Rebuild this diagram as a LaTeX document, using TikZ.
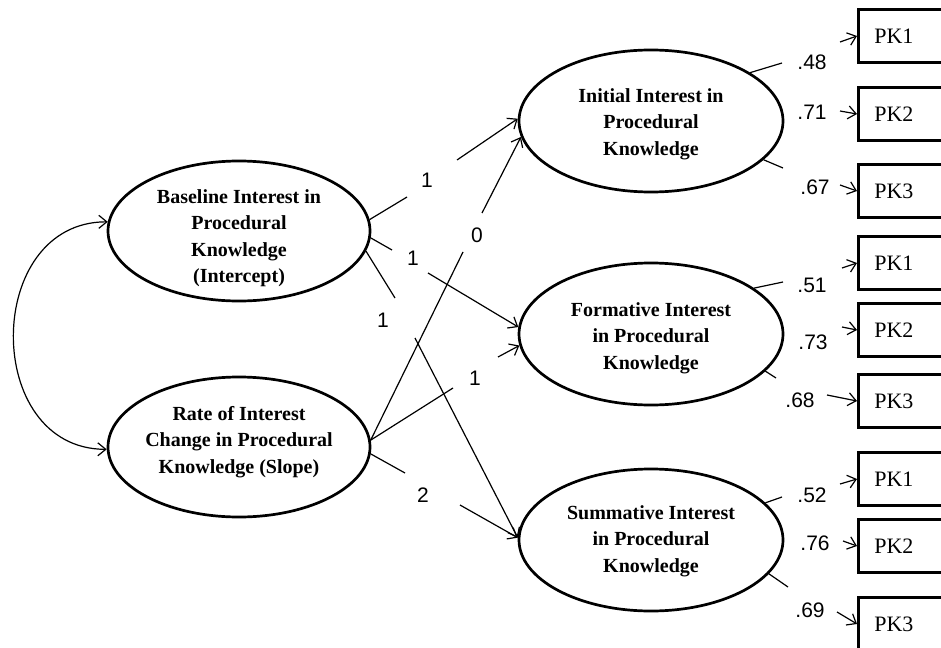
\documentclass[tikz,border=0pt]{standalone}
\usepackage{fontspec}
\setmainfont{Liberation Serif}
\newfontfamily\numfont{Liberation Sans}
\usetikzlibrary{shapes.geometric,arrows.meta,calc}
\begin{document}
\begin{tikzpicture}[x=1pt,y=-1pt,
  lat/.style={ellipse, draw, line width=2.7pt, minimum width=262pt, minimum height=140pt, inner sep=0pt},
  rlat/.style={lat, minimum width=264pt, minimum height=142pt},
  lattext/.style={align=center, inner sep=0pt, font=\bfseries\fontsize{20}{26.5}\selectfont},
  obs/.style={rectangle, draw, line width=2.7pt, minimum height=53pt, text width=88pt,
    inner xsep=16pt, align=left, font=\fontsize{22}{24}\selectfont, anchor=west},
  conn/.style={line width=1.2pt},
  arr/.style={line width=1.2pt, -{Straight Barb[length=8pt,width=13pt]}},
  dbl/.style={line width=1.2pt, {Straight Barb[length=8pt,width=13pt]}-{Straight Barb[length=8pt,width=13pt]}},
  coef/.style={font=\numfont\fontsize{21}{24}\selectfont, inner sep=0pt}
]
\useasboundingbox (0,0) rectangle (941,647);
\clip (0,0) rectangle (941,647);

% latent factors
\node[lat] (base) at (239,231) {};
\node[lattext] (baset) at ([yshift=-7pt]base.center) {Baseline Interest in\\Procedural\\Knowledge\\(Intercept)};
\node[lat] (rate) at (239,447) {};
\node[lattext] (ratet) at ([yshift=5pt]rate.center) {Rate of Interest\\Change in Procedural\\Knowledge (Slope)};
\node[rlat] (ini) at (651,121) {};
\node[lattext] (init) at ([yshift=-3pt]ini.center) {Initial Interest in\\Procedural\\Knowledge};
\node[rlat] (for) at (651,334) {};
\node[lattext] (fort) at ([yshift=-4pt]for.center) {Formative Interest\\in Procedural\\Knowledge};
\node[rlat] (sum) at (651,540) {};
\node[lattext] (sumt) at ([yshift=-1pt]sum.center) {Summative Interest\\in Procedural\\Knowledge};

% indicators
\node[obs] (i1) at (857,36) {PK1};
\node[obs] (i2) at (857,114) {PK2};
\node[obs] (i3) at (857,191) {PK3};
\node[obs] (f1) at (857,263) {PK1};
\node[obs] (f2) at (857,330) {PK2};
\node[obs] (f3) at (857,401) {PK3};
\node[obs] (s1) at (857,479) {PK1};
\node[obs] (s2) at (857,546) {PK2};
\node[obs] (s3) at (857,624) {PK3};

% covariance
\draw[dbl] (base.176) to[out=180,in=180,looseness=1.4] (rate.181);

% growth paths (broken by their labels)
\coordinate (bi1) at (407,197); \coordinate (bi2) at (457,160);
\coordinate (ri1) at (463,252); \coordinate (ri2) at (482,213);
\coordinate (bf1) at (392,250); \coordinate (bf2) at (428,273);
\coordinate (bs1) at (395,298); \coordinate (bs2) at (415,338);
\coordinate (rf1) at (453,388); \coordinate (rf2) at (498,357);
\coordinate (rs1) at (405,473); \coordinate (rs2) at (460,505);

\draw[conn] (base.5) -- (bi1);  \draw[arr] (bi2) -- (ini.179);
\draw[conn] (rate.3) -- (ri1);  \draw[arr] (ri2) -- (ini.187);
\draw[conn] (base.-3) -- (bf1); \draw[arr] (bf2) -- (for.177);
\draw[conn] (base.-9) -- (bs1); \draw[arr] (bs2) -- (sum.179);
\draw[conn] (rate.3) -- (rf1);  \draw[arr] (rf2) -- (for.185);
\draw[conn] (rate.-3) -- (rs1); \draw[arr] (rs2) -- (sum.179);

\node[coef] (l1) at (427,180) {1};
\node[coef] (l2) at (477,235) {0};
\node[coef] (l3) at (413,258) {1};
\node[coef] (l4) at (383,320) {1};
\node[coef] (l5) at (475,378) {1};
\node[coef] (l6) at (423,495) {2};

% loadings
\coordinate (ia) at (782,63);  \coordinate (ib) at (840,42);
\coordinate (ic) at (840,111);
\coordinate (id) at (783,168); \coordinate (ie) at (840,185);
\draw[conn] (ini.26) -- (ia);  \draw[arr] (ib) -- (i1.west);
\draw[arr] (ic) -- (i2.west);
\draw[conn] (ini.-19) -- (id); \draw[arr] (ie) -- (i3.west);

\coordinate (fa) at (783,282); \coordinate (fb) at (842,268);
\coordinate (fc) at (842,327);
\coordinate (fd) at (776,378); \coordinate (fe) at (827,395);
\draw[conn] (for.24) -- (fa);  \draw[arr] (fb) -- (f1.west);
\draw[arr] (fc) -- (f2.west);
\draw[conn] (for.-18) -- (fd); \draw[arr] (fe) -- (f3.west);

\coordinate (sa) at (782,497); \coordinate (sb) at (840,484);
\coordinate (sc) at (843,541);
\coordinate (sd) at (788,587); \coordinate (se) at (837,612);
\draw[conn] (sum.18) -- (sa);  \draw[arr] (sb) -- (s1.west);
\draw[arr] (sc) -- (s2.west);
\draw[conn] (sum.-16) -- (sd); \draw[arr] (se) -- (s3.west);

\node[coef] (c1) at (812,62) {.48};
\node[coef] (c2) at (812,112) {.71};
\node[coef] (c3) at (815,187) {.67};
\node[coef] (c4) at (812,285) {.51};
\node[coef] (c5) at (813,342) {.73};
\node[coef] (c6) at (800,400) {.68};
\node[coef] (c7) at (812,495) {.52};
\node[coef] (c8) at (815,543) {.76};
\node[coef] (c9) at (810,610) {.69};
\end{tikzpicture}
\end{document}
